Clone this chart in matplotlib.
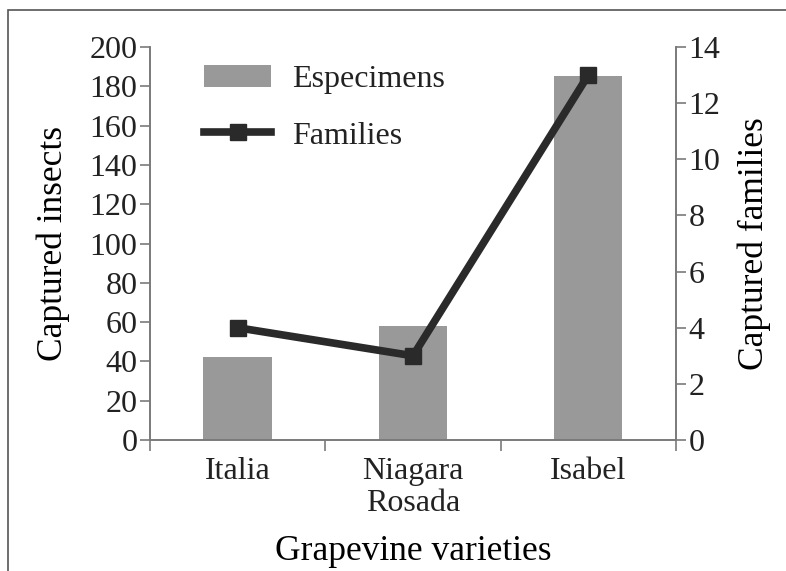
import matplotlib
matplotlib.use("Agg")
import matplotlib.pyplot as plt
from matplotlib.patches import Rectangle

# values
varieties = ["Italia", "Niagara\nRosada", "Isabel"]
specimens = [42, 58, 185]
families = [4, 3, 13]
left_ticks = list(range(0, 201, 20))
right_ticks = list(range(0, 15, 2))

plt.rcParams["font.family"] = ["Liberation Serif", "DejaVu Serif"]
plt.rcParams["text.color"] = "#222222"

spine_col = "#7a7a7a"
bar_col = "#999999"
line_col = "#2a2a2a"
tick_fs = 23
label_fs = 25.5


def style_axis(ax):
    for s in ax.spines.values():
        s.set_color(spine_col)
        s.set_linewidth(1.2)
    ax.tick_params(colors=spine_col, labelcolor="#222222", labelsize=tick_fs,
                   width=1.2, length=7, pad=2)


fig = plt.figure(figsize=(7.86, 5.71), dpi=100)
ax = fig.add_axes([0.1908, 0.2294, 0.6692, 0.6883])
ax2 = ax.twinx()

x = range(len(varieties))
bars = ax.bar(x, specimens, width=0.39, color=bar_col, label="Especimens", zorder=2)
line, = ax2.plot(x, families, color=line_col, lw=5.5, marker="s", markersize=11,
                 label="Families", zorder=3)

ax.set_xlim(-0.5, 2.5)
ax.set_ylim(0, 200)
ax2.set_ylim(0, 14)
ax.set_yticks(left_ticks)
ax2.set_yticks(right_ticks)

ax.set_xticks(list(x))
ax.set_xticklabels(varieties, fontsize=tick_fs, linespacing=1.15)
ax.set_xticks([-0.5, 0.5, 1.5, 2.5], minor=True)

for a in (ax, ax2):
    style_axis(a)
    a.spines["top"].set_visible(False)
ax.tick_params(axis="x", which="major", length=0, pad=12)
ax.tick_params(axis="x", which="minor", length=8, width=1.2, color=spine_col)

ax.set_ylabel("Captured insects", fontsize=label_fs, labelpad=14)
ax2.set_ylabel("Captured families", fontsize=label_fs, labelpad=12)
ax.set_xlabel("Grapevine varieties", fontsize=label_fs, labelpad=12)

ax2.legend([bars, line], ["Especimens", "Families"], loc="upper left",
           bbox_to_anchor=(0.103, 0.955), frameon=False, fontsize=tick_fs,
           borderpad=0, borderaxespad=0, handlelength=2.1, handletextpad=0.65,
           labelspacing=0.85)

# outer frame of the original figure (right/bottom edges fall outside)
fig.patches.append(Rectangle((8 / 786, -0.05), 1.2, 1 - 10 / 571 + 0.05,
                             transform=fig.transFigure, fill=False,
                             edgecolor="#555555", lw=1.2))

fig.savefig("out.png", dpi=100)
